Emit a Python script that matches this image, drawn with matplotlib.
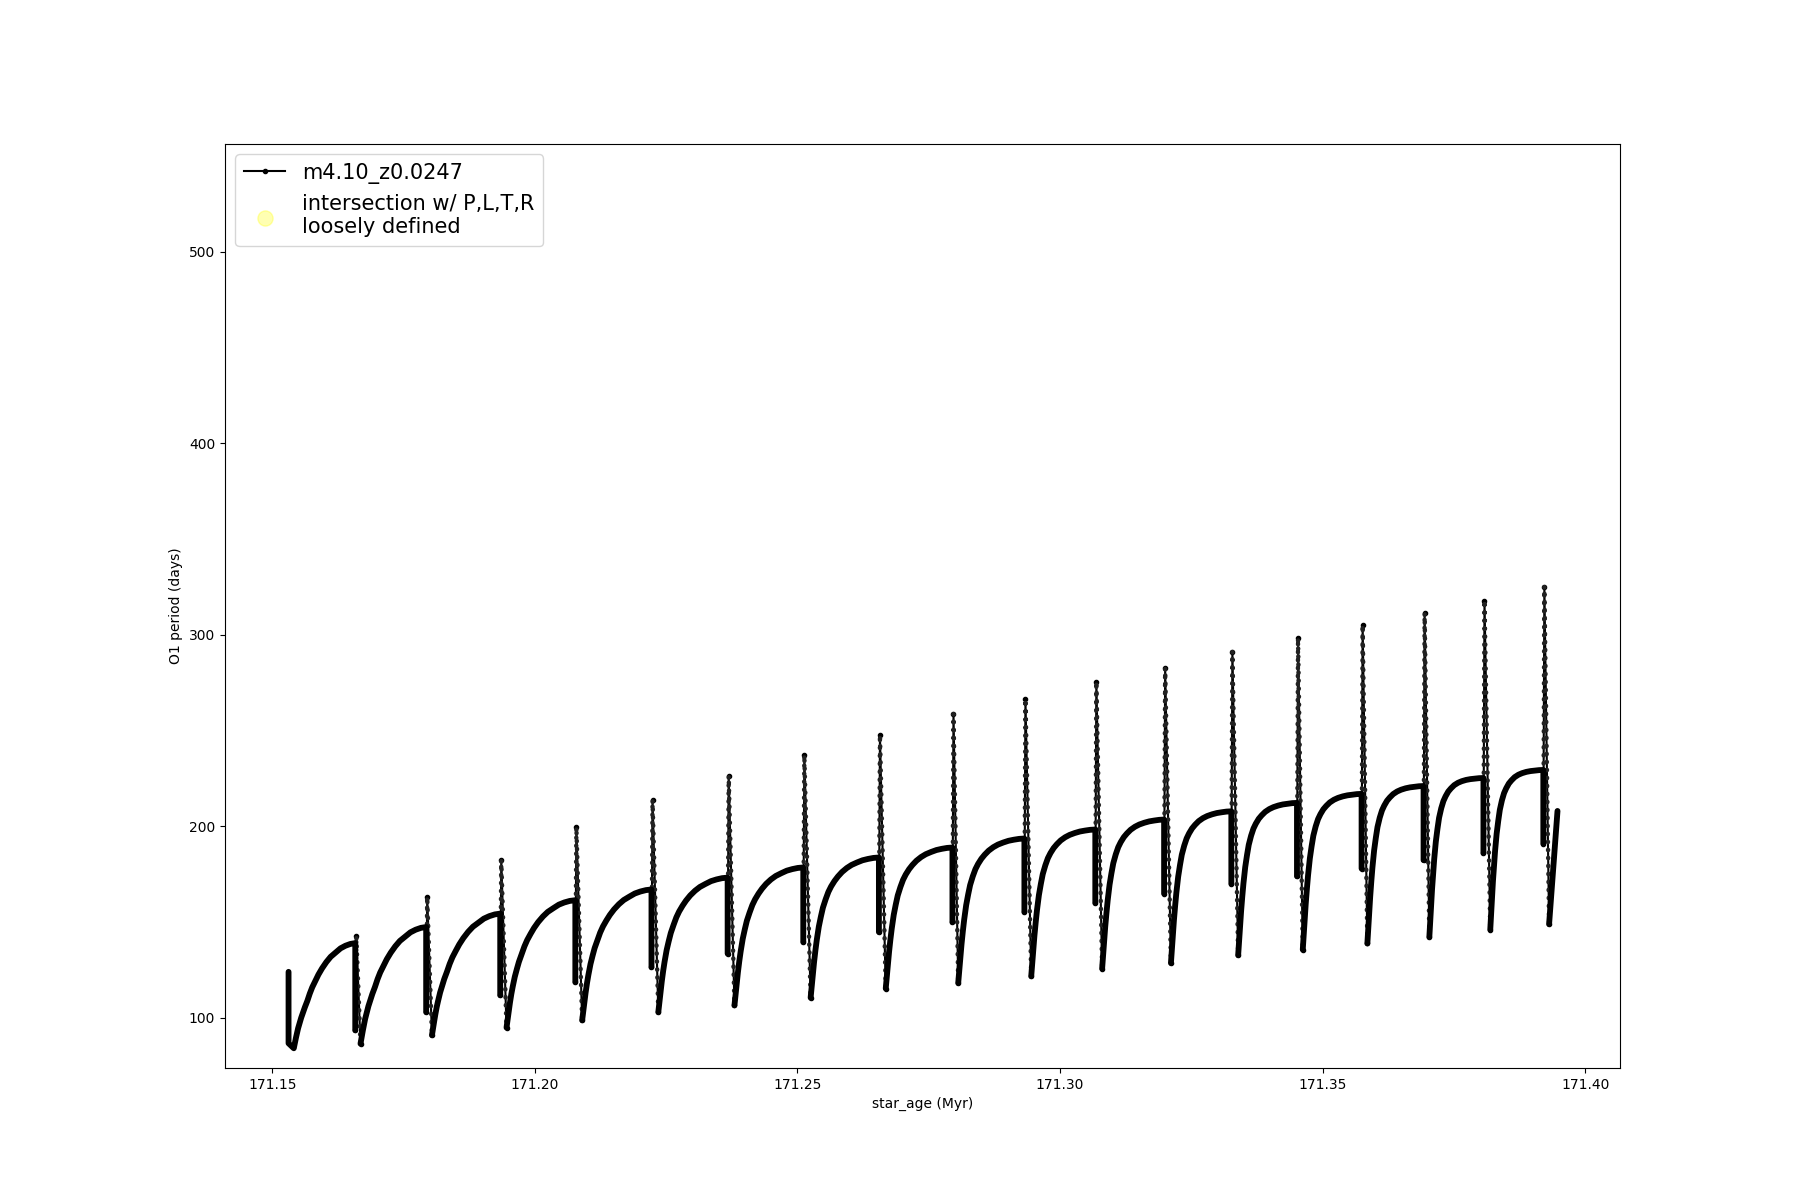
import numpy as np
import matplotlib
matplotlib.use("Agg")
import matplotlib.pyplot as plt

# ---------------- data ----------------
# start of the track
start_age = 171.1531
start_P = 124.0
start_drop_P = 86.7
start_min_age = 171.1541
start_min_P = 84.1

# each pulse: age of pulse, plateau period just before, drop bottom,
# spike top (age, period), post-pulse minimum (age, period)
pulse_age = [171.1658, 171.1793, 171.1934, 171.2077, 171.2222, 171.2367,
             171.2511, 171.2655, 171.2795, 171.2932, 171.3067, 171.3198,
             171.3326, 171.3451, 171.3574, 171.3692, 171.3806, 171.3920]
plateau_P = [139.0, 147.4, 154.4, 161.4, 167.0, 173.2, 178.5, 183.7, 188.9,
             193.6, 198.3, 203.5, 207.8, 212.2, 216.9, 221.0, 225.2, 229.4]
drop_P = [93.5, 103.0, 111.8, 118.7, 126.5, 133.5, 139.6, 144.8, 150.0,
          155.3, 160.0, 164.9, 170.1, 173.9, 177.9, 182.3, 186.1, 191.0]
spike_age = [171.1660, 171.1795, 171.1936, 171.2079, 171.2224, 171.2369,
             171.2513, 171.2657, 171.2797, 171.2934, 171.3069, 171.3200,
             171.3328, 171.3453, 171.3576, 171.3694, 171.3808, 171.3922]
spike_P = [142.6, 163.1, 182.3, 199.4, 213.6, 226.2, 237.1, 247.6, 258.6,
           266.2, 275.4, 282.4, 291.1, 298.1, 305.0, 311.2, 317.8, 325.1]
min_age = [171.1668, 171.1804, 171.1946, 171.2090, 171.2235, 171.2380,
           171.2525, 171.2668, 171.2806, 171.2945, 171.3080, 171.3211,
           171.3339, 171.3462, 171.3585, 171.3703, 171.3819, 171.3931]
min_P = [86.5, 90.9, 94.9, 98.7, 103.0, 106.5, 110.5, 115.3, 118.2,
         121.7, 125.7, 128.6, 132.7, 135.6, 138.8, 142.2, 146.1, 148.9]

# end of the track
end_age = 171.3947
end_P = 208.0

# shape of the recovery from minimum to plateau (fraction of time, fraction of rise)
prof_u = [0.0, 0.01, 0.02, 0.035, 0.05, 0.07, 0.09, 0.12, 0.15, 0.18, 0.22, 0.26,
          0.30, 0.35, 0.40, 0.46, 0.53, 0.60, 0.68, 0.76, 0.84, 0.92, 1.0]
prof_f_early = [0.0, 0.03, 0.06, 0.10, 0.14, 0.19, 0.23, 0.29, 0.34, 0.39, 0.45, 0.52,
                0.58, 0.64, 0.70, 0.76, 0.82, 0.87, 0.91, 0.95, 0.975, 0.992, 1.0]
prof_f_late = [0.0, 0.06, 0.12, 0.21, 0.30, 0.40, 0.49, 0.60, 0.68, 0.75, 0.81, 0.855,
               0.885, 0.915, 0.935, 0.955, 0.97, 0.98, 0.988, 0.993, 0.996, 0.999, 1.0]
recovery_weight = [0.0, 0.1, 0.2, 0.35, 0.45, 0.55, 0.62, 0.7, 0.75, 0.8,
                   0.85, 0.88, 0.9, 0.93, 0.95, 0.97, 1.0, 1.0]

legend_labels = ["m4.10_z0.0247", "intersection w/ P,L,T,R\nloosely defined"]

# ---------------- build paths ----------------
pu = np.array(prof_u)
pe = np.array(prof_f_early)
pl = np.array(prof_f_late)

thick_x = [start_age, start_age, start_min_age]
thick_y = [start_P, start_drop_P, start_min_P]
prev_t, prev_P = start_min_age, start_min_P
thin_x, thin_y = [], []
for k in range(len(pulse_age)):
    w = recovery_weight[k]
    f = (1 - w) * pe + w * pl
    thick_x += list(prev_t + pu * (pulse_age[k] - prev_t))
    thick_y += list(prev_P + f * (plateau_P[k] - prev_P))
    thick_x += [pulse_age[k], np.nan]
    thick_y += [drop_P[k], np.nan]
    thin_x += [pulse_age[k], spike_age[k], min_age[k], np.nan]
    thin_y += [drop_P[k], spike_P[k], min_P[k], np.nan]
    prev_t, prev_P = min_age[k], min_P[k]
thick_x += [prev_t, end_age]
thick_y += [prev_P, end_P]

# ---------------- draw ----------------
fig, ax = plt.subplots(figsize=(18, 12), dpi=100)

ax.plot(thin_x, thin_y, '.-', color='black', lw=1.5, ms=6, label=legend_labels[0], zorder=3)
ax.plot(thin_x, thin_y, color='#222222', lw=3.2, linestyle=(0, (0.1, 1.7)),
        dash_capstyle='round', zorder=3)
ax.plot(thick_x, thick_y, '-', color='black', lw=4.2, solid_capstyle='round',
        solid_joinstyle='round', zorder=4)
ax.scatter([], [], s=120, color='yellow', alpha=0.3, label=legend_labels[1])

ax.set_xlim(171.1410, 171.4066)
ax.set_ylim(73.8, 556.2)
ax.ticklabel_format(axis='x', useOffset=False)
ax.set_xlabel('star_age (Myr)')
ax.set_ylabel('O1 period (days)')
ax.legend(loc='upper left', fontsize=15)

fig.savefig('out.png', dpi=100)
